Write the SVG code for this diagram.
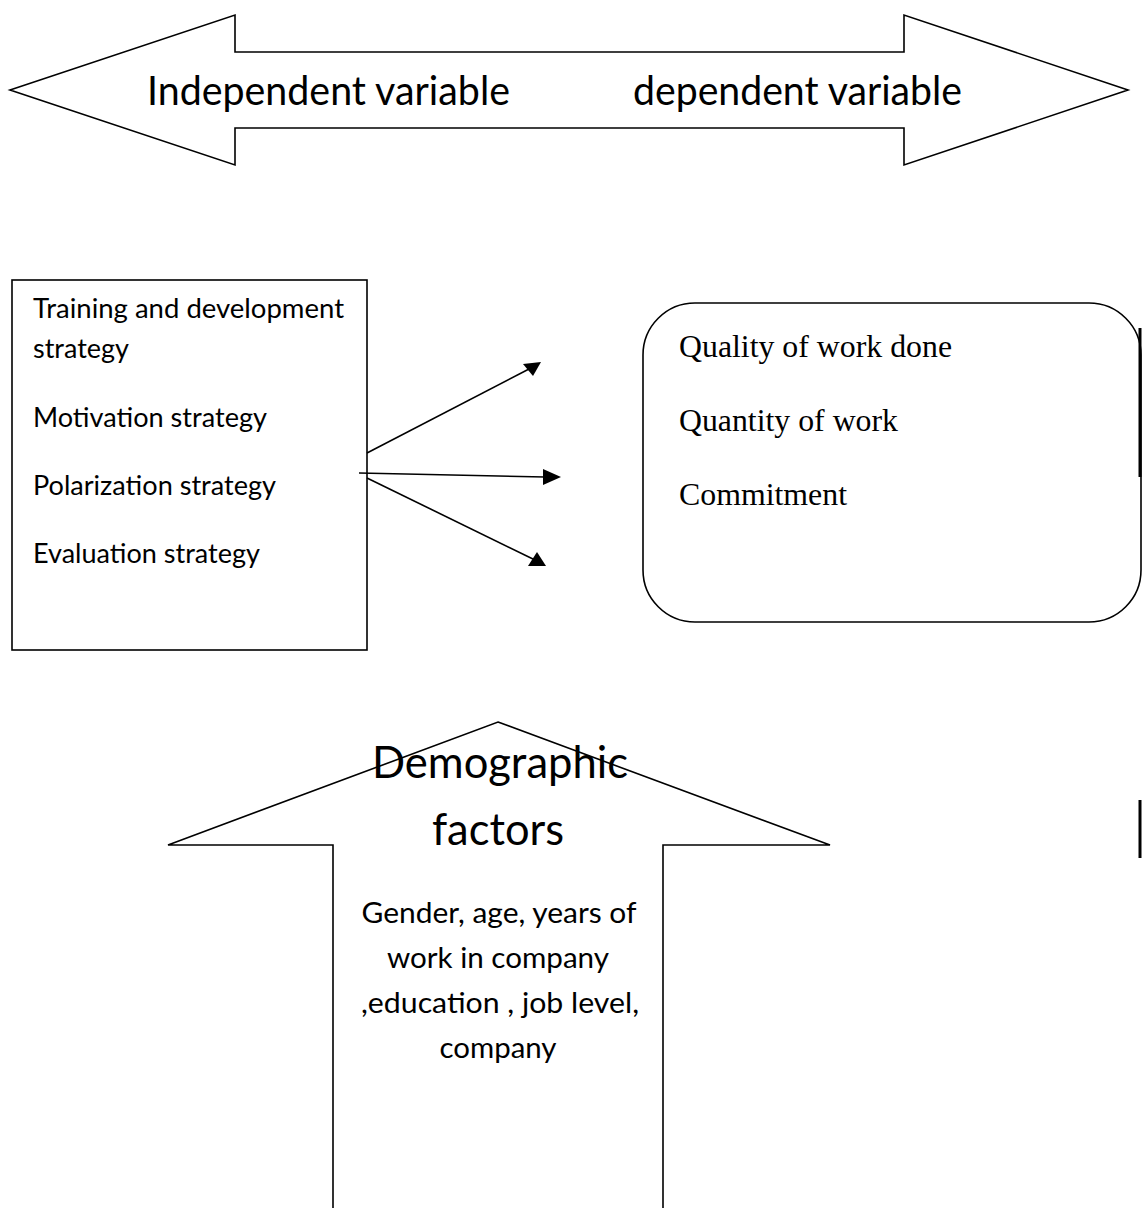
<svg xmlns="http://www.w3.org/2000/svg" width="1144" height="1208" viewBox="0 0 1144 1208">
<style>
.shape{fill:#fff;stroke:#000;stroke-width:1.6;stroke-linejoin:miter}
.sans{font-family:Lato,"Open Sans","Liberation Sans",sans-serif;fill:#000}
.serif{font-family:"Liberation Serif","Times New Roman",serif;fill:#000}
.conn{stroke:#000;stroke-width:1.6;fill:none}
.head{fill:#000;stroke:none}
.bar{stroke:#000;stroke-width:3}
</style>
<rect x="0" y="0" width="1144" height="1208" fill="#fff"/>
<g id="variables-arrow">
<polygon class="shape" points="10,90 235,15 235,52 904,52 904,15 1128,90 904,165 904,128 235,128 235,165"/>
<text class="sans" x="147" y="105" font-size="40" textLength="363" lengthAdjust="spacingAndGlyphs">Independent variable</text>
<text class="sans" x="633" y="105" font-size="40" textLength="329" lengthAdjust="spacingAndGlyphs">dependent variable</text>
</g>
<g id="strategies">
<rect class="shape" x="12" y="280" width="355" height="370"/>
<text class="sans" x="33" y="318" font-size="27" textLength="311" lengthAdjust="spacingAndGlyphs">Training and development</text>
<text class="sans" x="33" y="358" font-size="27" textLength="96" lengthAdjust="spacingAndGlyphs">strategy</text>
<text class="sans" x="33" y="427" font-size="27" textLength="234" lengthAdjust="spacingAndGlyphs">Motivation strategy</text>
<text class="sans" x="33" y="495" font-size="27" textLength="243" lengthAdjust="spacingAndGlyphs">Polarization strategy</text>
<text class="sans" x="33" y="563" font-size="27" textLength="227" lengthAdjust="spacingAndGlyphs">Evaluation strategy</text>
</g>
<g id="performance">
<rect class="shape" x="643" y="303" width="498" height="319" rx="52" ry="52"/>
<text class="serif" x="679" y="357" font-size="32" textLength="273" lengthAdjust="spacingAndGlyphs">Quality of work done</text>
<text class="serif" x="679" y="431" font-size="32" textLength="219" lengthAdjust="spacingAndGlyphs">Quantity of work</text>
<text class="serif" x="679" y="505" font-size="32" textLength="168" lengthAdjust="spacingAndGlyphs">Commitment</text>
</g>
<g id="demographic">
<polygon class="shape" points="498,722 830,845 663,845 663,1212 333,1212 333,845 168,845"/>
<text class="sans" x="500" y="778" font-size="45" text-anchor="middle" textLength="256" lengthAdjust="spacingAndGlyphs">Demographic</text>
<text class="sans" x="498" y="845" font-size="45" text-anchor="middle" textLength="132" lengthAdjust="spacingAndGlyphs">factors</text>
<text class="sans" x="499" y="923" font-size="29" text-anchor="middle" textLength="275" lengthAdjust="spacingAndGlyphs">Gender, age, years of</text>
<text class="sans" x="498" y="968" font-size="29" text-anchor="middle" textLength="222" lengthAdjust="spacingAndGlyphs">work in company</text>
<text class="sans" x="500" y="1013" font-size="29" text-anchor="middle" textLength="278" lengthAdjust="spacingAndGlyphs">,education , job level,</text>
<text class="sans" x="498" y="1058" font-size="29" text-anchor="middle" textLength="117" lengthAdjust="spacingAndGlyphs">company</text>
</g>
<g id="connectors">
<line class="conn" x1="367" y1="453" x2="529" y2="369"/>
<polygon class="head" points="523,364 541,362 533,376"/>
<line class="conn" x1="359" y1="473" x2="545" y2="477"/>
<polygon class="head" points="543,469 561,477 543,485"/>
<line class="conn" x1="367" y1="478" x2="535" y2="560"/>
<polygon class="head" points="528,566 546,566 537,552"/>
</g>
<g id="marks">
<line class="bar" x1="1140" y1="328" x2="1140" y2="477"/>
<line class="bar" x1="1140" y1="800" x2="1140" y2="858"/>
</g>
</svg>
